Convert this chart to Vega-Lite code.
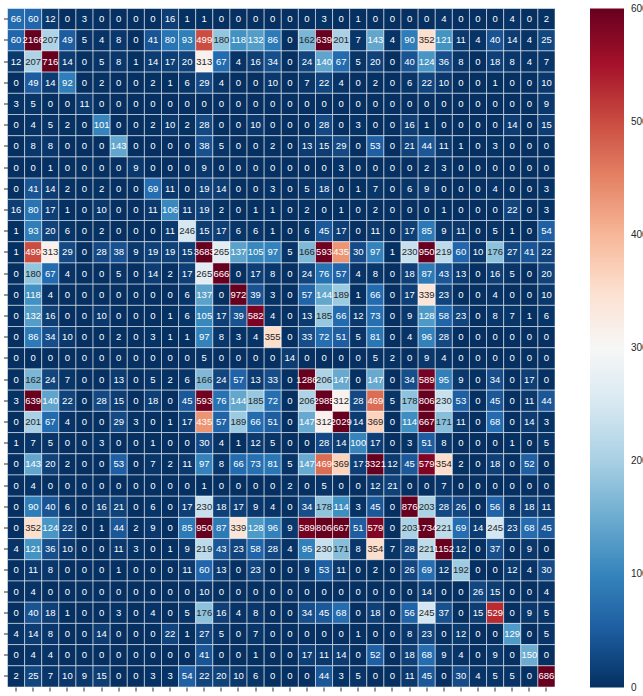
{
"$schema":"https://vega.github.io/schema/vega-lite/v6.json",
"autosize":"none",
"padding":{"left":7.5,"top":8.5,"right":88,"bottom":9},
"width":547.5,
"height":678.5,
"background":"white",
"config":{"view":{"stroke":null},"font":"Liberation Sans"},
"data":{"values":[
{"r":1,"c":1,"v":66},{"r":1,"c":2,"v":60},{"r":1,"c":3,"v":12},{"r":1,"c":4,"v":0},{"r":1,"c":5,"v":3},{"r":1,"c":6,"v":0},{"r":1,"c":7,"v":0},{"r":1,"c":8,"v":0},{"r":1,"c":9,"v":0},{"r":1,"c":10,"v":16},{"r":1,"c":11,"v":1},{"r":1,"c":12,"v":1},{"r":1,"c":13,"v":0},{"r":1,"c":14,"v":0},{"r":1,"c":15,"v":0},{"r":1,"c":16,"v":0},{"r":1,"c":17,"v":0},{"r":1,"c":18,"v":0},{"r":1,"c":19,"v":3},{"r":1,"c":20,"v":0},{"r":1,"c":21,"v":1},{"r":1,"c":22,"v":0},{"r":1,"c":23,"v":0},{"r":1,"c":24,"v":0},{"r":1,"c":25,"v":0},{"r":1,"c":26,"v":4},{"r":1,"c":27,"v":0},{"r":1,"c":28,"v":0},{"r":1,"c":29,"v":0},{"r":1,"c":30,"v":4},{"r":1,"c":31,"v":0},{"r":1,"c":32,"v":2},
{"r":2,"c":1,"v":60},{"r":2,"c":2,"v":2166},{"r":2,"c":3,"v":207},{"r":2,"c":4,"v":49},{"r":2,"c":5,"v":5},{"r":2,"c":6,"v":4},{"r":2,"c":7,"v":8},{"r":2,"c":8,"v":0},{"r":2,"c":9,"v":41},{"r":2,"c":10,"v":80},{"r":2,"c":11,"v":93},{"r":2,"c":12,"v":499},{"r":2,"c":13,"v":180},{"r":2,"c":14,"v":118},{"r":2,"c":15,"v":132},{"r":2,"c":16,"v":86},{"r":2,"c":17,"v":0},{"r":2,"c":18,"v":162},{"r":2,"c":19,"v":639},{"r":2,"c":20,"v":201},{"r":2,"c":21,"v":7},{"r":2,"c":22,"v":143},{"r":2,"c":23,"v":4},{"r":2,"c":24,"v":90},{"r":2,"c":25,"v":352},{"r":2,"c":26,"v":121},{"r":2,"c":27,"v":11},{"r":2,"c":28,"v":4},{"r":2,"c":29,"v":40},{"r":2,"c":30,"v":14},{"r":2,"c":31,"v":4},{"r":2,"c":32,"v":25},
{"r":3,"c":1,"v":12},{"r":3,"c":2,"v":207},{"r":3,"c":3,"v":716},{"r":3,"c":4,"v":14},{"r":3,"c":5,"v":0},{"r":3,"c":6,"v":5},{"r":3,"c":7,"v":8},{"r":3,"c":8,"v":1},{"r":3,"c":9,"v":14},{"r":3,"c":10,"v":17},{"r":3,"c":11,"v":20},{"r":3,"c":12,"v":313},{"r":3,"c":13,"v":67},{"r":3,"c":14,"v":4},{"r":3,"c":15,"v":16},{"r":3,"c":16,"v":34},{"r":3,"c":17,"v":0},{"r":3,"c":18,"v":24},{"r":3,"c":19,"v":140},{"r":3,"c":20,"v":67},{"r":3,"c":21,"v":5},{"r":3,"c":22,"v":20},{"r":3,"c":23,"v":0},{"r":3,"c":24,"v":40},{"r":3,"c":25,"v":124},{"r":3,"c":26,"v":36},{"r":3,"c":27,"v":8},{"r":3,"c":28,"v":0},{"r":3,"c":29,"v":18},{"r":3,"c":30,"v":8},{"r":3,"c":31,"v":4},{"r":3,"c":32,"v":7},
{"r":4,"c":1,"v":0},{"r":4,"c":2,"v":49},{"r":4,"c":3,"v":14},{"r":4,"c":4,"v":92},{"r":4,"c":5,"v":0},{"r":4,"c":6,"v":2},{"r":4,"c":7,"v":0},{"r":4,"c":8,"v":0},{"r":4,"c":9,"v":2},{"r":4,"c":10,"v":1},{"r":4,"c":11,"v":6},{"r":4,"c":12,"v":29},{"r":4,"c":13,"v":4},{"r":4,"c":14,"v":0},{"r":4,"c":15,"v":0},{"r":4,"c":16,"v":10},{"r":4,"c":17,"v":0},{"r":4,"c":18,"v":7},{"r":4,"c":19,"v":22},{"r":4,"c":20,"v":4},{"r":4,"c":21,"v":0},{"r":4,"c":22,"v":2},{"r":4,"c":23,"v":0},{"r":4,"c":24,"v":6},{"r":4,"c":25,"v":22},{"r":4,"c":26,"v":10},{"r":4,"c":27,"v":0},{"r":4,"c":28,"v":0},{"r":4,"c":29,"v":1},{"r":4,"c":30,"v":0},{"r":4,"c":31,"v":0},{"r":4,"c":32,"v":10},
{"r":5,"c":1,"v":3},{"r":5,"c":2,"v":5},{"r":5,"c":3,"v":0},{"r":5,"c":4,"v":0},{"r":5,"c":5,"v":11},{"r":5,"c":6,"v":0},{"r":5,"c":7,"v":0},{"r":5,"c":8,"v":0},{"r":5,"c":9,"v":0},{"r":5,"c":10,"v":0},{"r":5,"c":11,"v":0},{"r":5,"c":12,"v":0},{"r":5,"c":13,"v":0},{"r":5,"c":14,"v":0},{"r":5,"c":15,"v":0},{"r":5,"c":16,"v":0},{"r":5,"c":17,"v":0},{"r":5,"c":18,"v":0},{"r":5,"c":19,"v":0},{"r":5,"c":20,"v":0},{"r":5,"c":21,"v":0},{"r":5,"c":22,"v":0},{"r":5,"c":23,"v":0},{"r":5,"c":24,"v":0},{"r":5,"c":25,"v":0},{"r":5,"c":26,"v":0},{"r":5,"c":27,"v":0},{"r":5,"c":28,"v":0},{"r":5,"c":29,"v":0},{"r":5,"c":30,"v":0},{"r":5,"c":31,"v":0},{"r":5,"c":32,"v":9},
{"r":6,"c":1,"v":0},{"r":6,"c":2,"v":4},{"r":6,"c":3,"v":5},{"r":6,"c":4,"v":2},{"r":6,"c":5,"v":0},{"r":6,"c":6,"v":101},{"r":6,"c":7,"v":0},{"r":6,"c":8,"v":0},{"r":6,"c":9,"v":2},{"r":6,"c":10,"v":10},{"r":6,"c":11,"v":2},{"r":6,"c":12,"v":28},{"r":6,"c":13,"v":0},{"r":6,"c":14,"v":0},{"r":6,"c":15,"v":10},{"r":6,"c":16,"v":0},{"r":6,"c":17,"v":0},{"r":6,"c":18,"v":0},{"r":6,"c":19,"v":28},{"r":6,"c":20,"v":0},{"r":6,"c":21,"v":3},{"r":6,"c":22,"v":0},{"r":6,"c":23,"v":0},{"r":6,"c":24,"v":16},{"r":6,"c":25,"v":1},{"r":6,"c":26,"v":0},{"r":6,"c":27,"v":0},{"r":6,"c":28,"v":0},{"r":6,"c":29,"v":0},{"r":6,"c":30,"v":14},{"r":6,"c":31,"v":0},{"r":6,"c":32,"v":15},
{"r":7,"c":1,"v":0},{"r":7,"c":2,"v":8},{"r":7,"c":3,"v":8},{"r":7,"c":4,"v":0},{"r":7,"c":5,"v":0},{"r":7,"c":6,"v":0},{"r":7,"c":7,"v":143},{"r":7,"c":8,"v":0},{"r":7,"c":9,"v":0},{"r":7,"c":10,"v":0},{"r":7,"c":11,"v":0},{"r":7,"c":12,"v":38},{"r":7,"c":13,"v":5},{"r":7,"c":14,"v":0},{"r":7,"c":15,"v":0},{"r":7,"c":16,"v":2},{"r":7,"c":17,"v":0},{"r":7,"c":18,"v":13},{"r":7,"c":19,"v":15},{"r":7,"c":20,"v":29},{"r":7,"c":21,"v":0},{"r":7,"c":22,"v":53},{"r":7,"c":23,"v":0},{"r":7,"c":24,"v":21},{"r":7,"c":25,"v":44},{"r":7,"c":26,"v":11},{"r":7,"c":27,"v":1},{"r":7,"c":28,"v":0},{"r":7,"c":29,"v":3},{"r":7,"c":30,"v":0},{"r":7,"c":31,"v":0},{"r":7,"c":32,"v":0},
{"r":8,"c":1,"v":0},{"r":8,"c":2,"v":0},{"r":8,"c":3,"v":1},{"r":8,"c":4,"v":0},{"r":8,"c":5,"v":0},{"r":8,"c":6,"v":0},{"r":8,"c":7,"v":0},{"r":8,"c":8,"v":9},{"r":8,"c":9,"v":0},{"r":8,"c":10,"v":0},{"r":8,"c":11,"v":0},{"r":8,"c":12,"v":9},{"r":8,"c":13,"v":0},{"r":8,"c":14,"v":0},{"r":8,"c":15,"v":0},{"r":8,"c":16,"v":0},{"r":8,"c":17,"v":0},{"r":8,"c":18,"v":0},{"r":8,"c":19,"v":0},{"r":8,"c":20,"v":3},{"r":8,"c":21,"v":0},{"r":8,"c":22,"v":0},{"r":8,"c":23,"v":0},{"r":8,"c":24,"v":0},{"r":8,"c":25,"v":2},{"r":8,"c":26,"v":3},{"r":8,"c":27,"v":0},{"r":8,"c":28,"v":0},{"r":8,"c":29,"v":0},{"r":8,"c":30,"v":0},{"r":8,"c":31,"v":0},{"r":8,"c":32,"v":0},
{"r":9,"c":1,"v":0},{"r":9,"c":2,"v":41},{"r":9,"c":3,"v":14},{"r":9,"c":4,"v":2},{"r":9,"c":5,"v":0},{"r":9,"c":6,"v":2},{"r":9,"c":7,"v":0},{"r":9,"c":8,"v":0},{"r":9,"c":9,"v":69},{"r":9,"c":10,"v":11},{"r":9,"c":11,"v":0},{"r":9,"c":12,"v":19},{"r":9,"c":13,"v":14},{"r":9,"c":14,"v":0},{"r":9,"c":15,"v":0},{"r":9,"c":16,"v":3},{"r":9,"c":17,"v":0},{"r":9,"c":18,"v":5},{"r":9,"c":19,"v":18},{"r":9,"c":20,"v":0},{"r":9,"c":21,"v":1},{"r":9,"c":22,"v":7},{"r":9,"c":23,"v":0},{"r":9,"c":24,"v":6},{"r":9,"c":25,"v":9},{"r":9,"c":26,"v":0},{"r":9,"c":27,"v":0},{"r":9,"c":28,"v":0},{"r":9,"c":29,"v":4},{"r":9,"c":30,"v":0},{"r":9,"c":31,"v":0},{"r":9,"c":32,"v":3},
{"r":10,"c":1,"v":16},{"r":10,"c":2,"v":80},{"r":10,"c":3,"v":17},{"r":10,"c":4,"v":1},{"r":10,"c":5,"v":0},{"r":10,"c":6,"v":10},{"r":10,"c":7,"v":0},{"r":10,"c":8,"v":0},{"r":10,"c":9,"v":11},{"r":10,"c":10,"v":106},{"r":10,"c":11,"v":11},{"r":10,"c":12,"v":19},{"r":10,"c":13,"v":2},{"r":10,"c":14,"v":0},{"r":10,"c":15,"v":1},{"r":10,"c":16,"v":1},{"r":10,"c":17,"v":0},{"r":10,"c":18,"v":2},{"r":10,"c":19,"v":0},{"r":10,"c":20,"v":1},{"r":10,"c":21,"v":0},{"r":10,"c":22,"v":2},{"r":10,"c":23,"v":0},{"r":10,"c":24,"v":0},{"r":10,"c":25,"v":0},{"r":10,"c":26,"v":1},{"r":10,"c":27,"v":0},{"r":10,"c":28,"v":0},{"r":10,"c":29,"v":0},{"r":10,"c":30,"v":22},{"r":10,"c":31,"v":0},{"r":10,"c":32,"v":3},
{"r":11,"c":1,"v":1},{"r":11,"c":2,"v":93},{"r":11,"c":3,"v":20},{"r":11,"c":4,"v":6},{"r":11,"c":5,"v":0},{"r":11,"c":6,"v":2},{"r":11,"c":7,"v":0},{"r":11,"c":8,"v":0},{"r":11,"c":9,"v":0},{"r":11,"c":10,"v":11},{"r":11,"c":11,"v":246},{"r":11,"c":12,"v":15},{"r":11,"c":13,"v":17},{"r":11,"c":14,"v":6},{"r":11,"c":15,"v":6},{"r":11,"c":16,"v":1},{"r":11,"c":17,"v":0},{"r":11,"c":18,"v":6},{"r":11,"c":19,"v":45},{"r":11,"c":20,"v":17},{"r":11,"c":21,"v":0},{"r":11,"c":22,"v":11},{"r":11,"c":23,"v":0},{"r":11,"c":24,"v":17},{"r":11,"c":25,"v":85},{"r":11,"c":26,"v":9},{"r":11,"c":27,"v":11},{"r":11,"c":28,"v":0},{"r":11,"c":29,"v":5},{"r":11,"c":30,"v":1},{"r":11,"c":31,"v":0},{"r":11,"c":32,"v":54},
{"r":12,"c":1,"v":1},{"r":12,"c":2,"v":499},{"r":12,"c":3,"v":313},{"r":12,"c":4,"v":29},{"r":12,"c":5,"v":0},{"r":12,"c":6,"v":28},{"r":12,"c":7,"v":38},{"r":12,"c":8,"v":9},{"r":12,"c":9,"v":19},{"r":12,"c":10,"v":19},{"r":12,"c":11,"v":15},{"r":12,"c":12,"v":3683},{"r":12,"c":13,"v":265},{"r":12,"c":14,"v":137},{"r":12,"c":15,"v":105},{"r":12,"c":16,"v":97},{"r":12,"c":17,"v":5},{"r":12,"c":18,"v":166},{"r":12,"c":19,"v":593},{"r":12,"c":20,"v":435},{"r":12,"c":21,"v":30},{"r":12,"c":22,"v":97},{"r":12,"c":23,"v":1},{"r":12,"c":24,"v":230},{"r":12,"c":25,"v":950},{"r":12,"c":26,"v":219},{"r":12,"c":27,"v":60},{"r":12,"c":28,"v":10},{"r":12,"c":29,"v":176},{"r":12,"c":30,"v":27},{"r":12,"c":31,"v":41},{"r":12,"c":32,"v":22},
{"r":13,"c":1,"v":0},{"r":13,"c":2,"v":180},{"r":13,"c":3,"v":67},{"r":13,"c":4,"v":4},{"r":13,"c":5,"v":0},{"r":13,"c":6,"v":0},{"r":13,"c":7,"v":5},{"r":13,"c":8,"v":0},{"r":13,"c":9,"v":14},{"r":13,"c":10,"v":2},{"r":13,"c":11,"v":17},{"r":13,"c":12,"v":265},{"r":13,"c":13,"v":666},{"r":13,"c":14,"v":0},{"r":13,"c":15,"v":17},{"r":13,"c":16,"v":8},{"r":13,"c":17,"v":0},{"r":13,"c":18,"v":24},{"r":13,"c":19,"v":76},{"r":13,"c":20,"v":57},{"r":13,"c":21,"v":4},{"r":13,"c":22,"v":8},{"r":13,"c":23,"v":0},{"r":13,"c":24,"v":18},{"r":13,"c":25,"v":87},{"r":13,"c":26,"v":43},{"r":13,"c":27,"v":13},{"r":13,"c":28,"v":0},{"r":13,"c":29,"v":16},{"r":13,"c":30,"v":5},{"r":13,"c":31,"v":0},{"r":13,"c":32,"v":20},
{"r":14,"c":1,"v":0},{"r":14,"c":2,"v":118},{"r":14,"c":3,"v":4},{"r":14,"c":4,"v":0},{"r":14,"c":5,"v":0},{"r":14,"c":6,"v":0},{"r":14,"c":7,"v":0},{"r":14,"c":8,"v":0},{"r":14,"c":9,"v":0},{"r":14,"c":10,"v":0},{"r":14,"c":11,"v":6},{"r":14,"c":12,"v":137},{"r":14,"c":13,"v":0},{"r":14,"c":14,"v":972},{"r":14,"c":15,"v":39},{"r":14,"c":16,"v":3},{"r":14,"c":17,"v":0},{"r":14,"c":18,"v":57},{"r":14,"c":19,"v":144},{"r":14,"c":20,"v":189},{"r":14,"c":21,"v":1},{"r":14,"c":22,"v":66},{"r":14,"c":23,"v":0},{"r":14,"c":24,"v":17},{"r":14,"c":25,"v":339},{"r":14,"c":26,"v":23},{"r":14,"c":27,"v":0},{"r":14,"c":28,"v":0},{"r":14,"c":29,"v":4},{"r":14,"c":30,"v":0},{"r":14,"c":31,"v":0},{"r":14,"c":32,"v":10},
{"r":15,"c":1,"v":0},{"r":15,"c":2,"v":132},{"r":15,"c":3,"v":16},{"r":15,"c":4,"v":0},{"r":15,"c":5,"v":0},{"r":15,"c":6,"v":10},{"r":15,"c":7,"v":0},{"r":15,"c":8,"v":0},{"r":15,"c":9,"v":0},{"r":15,"c":10,"v":1},{"r":15,"c":11,"v":6},{"r":15,"c":12,"v":105},{"r":15,"c":13,"v":17},{"r":15,"c":14,"v":39},{"r":15,"c":15,"v":582},{"r":15,"c":16,"v":4},{"r":15,"c":17,"v":0},{"r":15,"c":18,"v":13},{"r":15,"c":19,"v":185},{"r":15,"c":20,"v":66},{"r":15,"c":21,"v":12},{"r":15,"c":22,"v":73},{"r":15,"c":23,"v":0},{"r":15,"c":24,"v":9},{"r":15,"c":25,"v":128},{"r":15,"c":26,"v":58},{"r":15,"c":27,"v":23},{"r":15,"c":28,"v":0},{"r":15,"c":29,"v":8},{"r":15,"c":30,"v":7},{"r":15,"c":31,"v":1},{"r":15,"c":32,"v":6},
{"r":16,"c":1,"v":0},{"r":16,"c":2,"v":86},{"r":16,"c":3,"v":34},{"r":16,"c":4,"v":10},{"r":16,"c":5,"v":0},{"r":16,"c":6,"v":0},{"r":16,"c":7,"v":2},{"r":16,"c":8,"v":0},{"r":16,"c":9,"v":3},{"r":16,"c":10,"v":1},{"r":16,"c":11,"v":1},{"r":16,"c":12,"v":97},{"r":16,"c":13,"v":8},{"r":16,"c":14,"v":3},{"r":16,"c":15,"v":4},{"r":16,"c":16,"v":355},{"r":16,"c":17,"v":0},{"r":16,"c":18,"v":33},{"r":16,"c":19,"v":72},{"r":16,"c":20,"v":51},{"r":16,"c":21,"v":5},{"r":16,"c":22,"v":81},{"r":16,"c":23,"v":0},{"r":16,"c":24,"v":4},{"r":16,"c":25,"v":96},{"r":16,"c":26,"v":28},{"r":16,"c":27,"v":0},{"r":16,"c":28,"v":0},{"r":16,"c":29,"v":0},{"r":16,"c":30,"v":0},{"r":16,"c":31,"v":0},{"r":16,"c":32,"v":0},
{"r":17,"c":1,"v":0},{"r":17,"c":2,"v":0},{"r":17,"c":3,"v":0},{"r":17,"c":4,"v":0},{"r":17,"c":5,"v":0},{"r":17,"c":6,"v":0},{"r":17,"c":7,"v":0},{"r":17,"c":8,"v":0},{"r":17,"c":9,"v":0},{"r":17,"c":10,"v":0},{"r":17,"c":11,"v":0},{"r":17,"c":12,"v":5},{"r":17,"c":13,"v":0},{"r":17,"c":14,"v":0},{"r":17,"c":15,"v":0},{"r":17,"c":16,"v":0},{"r":17,"c":17,"v":14},{"r":17,"c":18,"v":0},{"r":17,"c":19,"v":0},{"r":17,"c":20,"v":0},{"r":17,"c":21,"v":0},{"r":17,"c":22,"v":5},{"r":17,"c":23,"v":2},{"r":17,"c":24,"v":0},{"r":17,"c":25,"v":9},{"r":17,"c":26,"v":4},{"r":17,"c":27,"v":0},{"r":17,"c":28,"v":0},{"r":17,"c":29,"v":0},{"r":17,"c":30,"v":0},{"r":17,"c":31,"v":0},{"r":17,"c":32,"v":0},
{"r":18,"c":1,"v":0},{"r":18,"c":2,"v":162},{"r":18,"c":3,"v":24},{"r":18,"c":4,"v":7},{"r":18,"c":5,"v":0},{"r":18,"c":6,"v":0},{"r":18,"c":7,"v":13},{"r":18,"c":8,"v":0},{"r":18,"c":9,"v":5},{"r":18,"c":10,"v":2},{"r":18,"c":11,"v":6},{"r":18,"c":12,"v":166},{"r":18,"c":13,"v":24},{"r":18,"c":14,"v":57},{"r":18,"c":15,"v":13},{"r":18,"c":16,"v":33},{"r":18,"c":17,"v":0},{"r":18,"c":18,"v":1286},{"r":18,"c":19,"v":206},{"r":18,"c":20,"v":147},{"r":18,"c":21,"v":0},{"r":18,"c":22,"v":147},{"r":18,"c":23,"v":0},{"r":18,"c":24,"v":34},{"r":18,"c":25,"v":589},{"r":18,"c":26,"v":95},{"r":18,"c":27,"v":9},{"r":18,"c":28,"v":0},{"r":18,"c":29,"v":34},{"r":18,"c":30,"v":0},{"r":18,"c":31,"v":17},{"r":18,"c":32,"v":0},
{"r":19,"c":1,"v":3},{"r":19,"c":2,"v":639},{"r":19,"c":3,"v":140},{"r":19,"c":4,"v":22},{"r":19,"c":5,"v":0},{"r":19,"c":6,"v":28},{"r":19,"c":7,"v":15},{"r":19,"c":8,"v":0},{"r":19,"c":9,"v":18},{"r":19,"c":10,"v":0},{"r":19,"c":11,"v":45},{"r":19,"c":12,"v":593},{"r":19,"c":13,"v":76},{"r":19,"c":14,"v":144},{"r":19,"c":15,"v":185},{"r":19,"c":16,"v":72},{"r":19,"c":17,"v":0},{"r":19,"c":18,"v":206},{"r":19,"c":19,"v":2985},{"r":19,"c":20,"v":312},{"r":19,"c":21,"v":28},{"r":19,"c":22,"v":469},{"r":19,"c":23,"v":5},{"r":19,"c":24,"v":178},{"r":19,"c":25,"v":806},{"r":19,"c":26,"v":230},{"r":19,"c":27,"v":53},{"r":19,"c":28,"v":0},{"r":19,"c":29,"v":45},{"r":19,"c":30,"v":0},{"r":19,"c":31,"v":11},{"r":19,"c":32,"v":44},
{"r":20,"c":1,"v":0},{"r":20,"c":2,"v":201},{"r":20,"c":3,"v":67},{"r":20,"c":4,"v":4},{"r":20,"c":5,"v":0},{"r":20,"c":6,"v":0},{"r":20,"c":7,"v":29},{"r":20,"c":8,"v":3},{"r":20,"c":9,"v":0},{"r":20,"c":10,"v":1},{"r":20,"c":11,"v":17},{"r":20,"c":12,"v":435},{"r":20,"c":13,"v":57},{"r":20,"c":14,"v":189},{"r":20,"c":15,"v":66},{"r":20,"c":16,"v":51},{"r":20,"c":17,"v":0},{"r":20,"c":18,"v":147},{"r":20,"c":19,"v":312},{"r":20,"c":20,"v":2029},{"r":20,"c":21,"v":14},{"r":20,"c":22,"v":369},{"r":20,"c":23,"v":0},{"r":20,"c":24,"v":114},{"r":20,"c":25,"v":667},{"r":20,"c":26,"v":171},{"r":20,"c":27,"v":11},{"r":20,"c":28,"v":0},{"r":20,"c":29,"v":68},{"r":20,"c":30,"v":0},{"r":20,"c":31,"v":14},{"r":20,"c":32,"v":3},
{"r":21,"c":1,"v":1},{"r":21,"c":2,"v":7},{"r":21,"c":3,"v":5},{"r":21,"c":4,"v":0},{"r":21,"c":5,"v":0},{"r":21,"c":6,"v":3},{"r":21,"c":7,"v":0},{"r":21,"c":8,"v":0},{"r":21,"c":9,"v":1},{"r":21,"c":10,"v":0},{"r":21,"c":11,"v":0},{"r":21,"c":12,"v":30},{"r":21,"c":13,"v":4},{"r":21,"c":14,"v":1},{"r":21,"c":15,"v":12},{"r":21,"c":16,"v":5},{"r":21,"c":17,"v":0},{"r":21,"c":18,"v":0},{"r":21,"c":19,"v":28},{"r":21,"c":20,"v":14},{"r":21,"c":21,"v":100},{"r":21,"c":22,"v":17},{"r":21,"c":23,"v":0},{"r":21,"c":24,"v":3},{"r":21,"c":25,"v":51},{"r":21,"c":26,"v":8},{"r":21,"c":27,"v":0},{"r":21,"c":28,"v":0},{"r":21,"c":29,"v":0},{"r":21,"c":30,"v":1},{"r":21,"c":31,"v":0},{"r":21,"c":32,"v":5},
{"r":22,"c":1,"v":0},{"r":22,"c":2,"v":143},{"r":22,"c":3,"v":20},{"r":22,"c":4,"v":2},{"r":22,"c":5,"v":0},{"r":22,"c":6,"v":0},{"r":22,"c":7,"v":53},{"r":22,"c":8,"v":0},{"r":22,"c":9,"v":7},{"r":22,"c":10,"v":2},{"r":22,"c":11,"v":11},{"r":22,"c":12,"v":97},{"r":22,"c":13,"v":8},{"r":22,"c":14,"v":66},{"r":22,"c":15,"v":73},{"r":22,"c":16,"v":81},{"r":22,"c":17,"v":5},{"r":22,"c":18,"v":147},{"r":22,"c":19,"v":469},{"r":22,"c":20,"v":369},{"r":22,"c":21,"v":17},{"r":22,"c":22,"v":3321},{"r":22,"c":23,"v":12},{"r":22,"c":24,"v":45},{"r":22,"c":25,"v":579},{"r":22,"c":26,"v":354},{"r":22,"c":27,"v":2},{"r":22,"c":28,"v":0},{"r":22,"c":29,"v":18},{"r":22,"c":30,"v":0},{"r":22,"c":31,"v":52},{"r":22,"c":32,"v":0},
{"r":23,"c":1,"v":0},{"r":23,"c":2,"v":4},{"r":23,"c":3,"v":0},{"r":23,"c":4,"v":0},{"r":23,"c":5,"v":0},{"r":23,"c":6,"v":0},{"r":23,"c":7,"v":0},{"r":23,"c":8,"v":0},{"r":23,"c":9,"v":0},{"r":23,"c":10,"v":0},{"r":23,"c":11,"v":0},{"r":23,"c":12,"v":1},{"r":23,"c":13,"v":0},{"r":23,"c":14,"v":0},{"r":23,"c":15,"v":0},{"r":23,"c":16,"v":0},{"r":23,"c":17,"v":2},{"r":23,"c":18,"v":0},{"r":23,"c":19,"v":5},{"r":23,"c":20,"v":0},{"r":23,"c":21,"v":0},{"r":23,"c":22,"v":12},{"r":23,"c":23,"v":21},{"r":23,"c":24,"v":0},{"r":23,"c":25,"v":0},{"r":23,"c":26,"v":7},{"r":23,"c":27,"v":0},{"r":23,"c":28,"v":0},{"r":23,"c":29,"v":0},{"r":23,"c":30,"v":0},{"r":23,"c":31,"v":0},{"r":23,"c":32,"v":0},
{"r":24,"c":1,"v":0},{"r":24,"c":2,"v":90},{"r":24,"c":3,"v":40},{"r":24,"c":4,"v":6},{"r":24,"c":5,"v":0},{"r":24,"c":6,"v":16},{"r":24,"c":7,"v":21},{"r":24,"c":8,"v":0},{"r":24,"c":9,"v":6},{"r":24,"c":10,"v":0},{"r":24,"c":11,"v":17},{"r":24,"c":12,"v":230},{"r":24,"c":13,"v":18},{"r":24,"c":14,"v":17},{"r":24,"c":15,"v":9},{"r":24,"c":16,"v":4},{"r":24,"c":17,"v":0},{"r":24,"c":18,"v":34},{"r":24,"c":19,"v":178},{"r":24,"c":20,"v":114},{"r":24,"c":21,"v":3},{"r":24,"c":22,"v":45},{"r":24,"c":23,"v":0},{"r":24,"c":24,"v":876},{"r":24,"c":25,"v":203},{"r":24,"c":26,"v":28},{"r":24,"c":27,"v":26},{"r":24,"c":28,"v":0},{"r":24,"c":29,"v":56},{"r":24,"c":30,"v":8},{"r":24,"c":31,"v":18},{"r":24,"c":32,"v":11},
{"r":25,"c":1,"v":0},{"r":25,"c":2,"v":352},{"r":25,"c":3,"v":124},{"r":25,"c":4,"v":22},{"r":25,"c":5,"v":0},{"r":25,"c":6,"v":1},{"r":25,"c":7,"v":44},{"r":25,"c":8,"v":2},{"r":25,"c":9,"v":9},{"r":25,"c":10,"v":0},{"r":25,"c":11,"v":85},{"r":25,"c":12,"v":950},{"r":25,"c":13,"v":87},{"r":25,"c":14,"v":339},{"r":25,"c":15,"v":128},{"r":25,"c":16,"v":96},{"r":25,"c":17,"v":9},{"r":25,"c":18,"v":589},{"r":25,"c":19,"v":806},{"r":25,"c":20,"v":667},{"r":25,"c":21,"v":51},{"r":25,"c":22,"v":579},{"r":25,"c":23,"v":0},{"r":25,"c":24,"v":203},{"r":25,"c":25,"v":1734},{"r":25,"c":26,"v":221},{"r":25,"c":27,"v":69},{"r":25,"c":28,"v":14},{"r":25,"c":29,"v":245},{"r":25,"c":30,"v":23},{"r":25,"c":31,"v":68},{"r":25,"c":32,"v":45},
{"r":26,"c":1,"v":4},{"r":26,"c":2,"v":121},{"r":26,"c":3,"v":36},{"r":26,"c":4,"v":10},{"r":26,"c":5,"v":0},{"r":26,"c":6,"v":0},{"r":26,"c":7,"v":11},{"r":26,"c":8,"v":3},{"r":26,"c":9,"v":0},{"r":26,"c":10,"v":1},{"r":26,"c":11,"v":9},{"r":26,"c":12,"v":219},{"r":26,"c":13,"v":43},{"r":26,"c":14,"v":23},{"r":26,"c":15,"v":58},{"r":26,"c":16,"v":28},{"r":26,"c":17,"v":4},{"r":26,"c":18,"v":95},{"r":26,"c":19,"v":230},{"r":26,"c":20,"v":171},{"r":26,"c":21,"v":8},{"r":26,"c":22,"v":354},{"r":26,"c":23,"v":7},{"r":26,"c":24,"v":28},{"r":26,"c":25,"v":221},{"r":26,"c":26,"v":1152},{"r":26,"c":27,"v":12},{"r":26,"c":28,"v":0},{"r":26,"c":29,"v":37},{"r":26,"c":30,"v":0},{"r":26,"c":31,"v":9},{"r":26,"c":32,"v":0},
{"r":27,"c":1,"v":0},{"r":27,"c":2,"v":11},{"r":27,"c":3,"v":8},{"r":27,"c":4,"v":0},{"r":27,"c":5,"v":0},{"r":27,"c":6,"v":0},{"r":27,"c":7,"v":1},{"r":27,"c":8,"v":0},{"r":27,"c":9,"v":0},{"r":27,"c":10,"v":0},{"r":27,"c":11,"v":11},{"r":27,"c":12,"v":60},{"r":27,"c":13,"v":13},{"r":27,"c":14,"v":0},{"r":27,"c":15,"v":23},{"r":27,"c":16,"v":0},{"r":27,"c":17,"v":0},{"r":27,"c":18,"v":9},{"r":27,"c":19,"v":53},{"r":27,"c":20,"v":11},{"r":27,"c":21,"v":0},{"r":27,"c":22,"v":2},{"r":27,"c":23,"v":0},{"r":27,"c":24,"v":26},{"r":27,"c":25,"v":69},{"r":27,"c":26,"v":12},{"r":27,"c":27,"v":192},{"r":27,"c":28,"v":0},{"r":27,"c":29,"v":0},{"r":27,"c":30,"v":12},{"r":27,"c":31,"v":4},{"r":27,"c":32,"v":30},
{"r":28,"c":1,"v":0},{"r":28,"c":2,"v":4},{"r":28,"c":3,"v":0},{"r":28,"c":4,"v":0},{"r":28,"c":5,"v":0},{"r":28,"c":6,"v":0},{"r":28,"c":7,"v":0},{"r":28,"c":8,"v":0},{"r":28,"c":9,"v":0},{"r":28,"c":10,"v":0},{"r":28,"c":11,"v":0},{"r":28,"c":12,"v":10},{"r":28,"c":13,"v":0},{"r":28,"c":14,"v":0},{"r":28,"c":15,"v":0},{"r":28,"c":16,"v":0},{"r":28,"c":17,"v":0},{"r":28,"c":18,"v":0},{"r":28,"c":19,"v":0},{"r":28,"c":20,"v":0},{"r":28,"c":21,"v":0},{"r":28,"c":22,"v":0},{"r":28,"c":23,"v":0},{"r":28,"c":24,"v":0},{"r":28,"c":25,"v":14},{"r":28,"c":26,"v":0},{"r":28,"c":27,"v":0},{"r":28,"c":28,"v":26},{"r":28,"c":29,"v":15},{"r":28,"c":30,"v":0},{"r":28,"c":31,"v":0},{"r":28,"c":32,"v":4},
{"r":29,"c":1,"v":0},{"r":29,"c":2,"v":40},{"r":29,"c":3,"v":18},{"r":29,"c":4,"v":1},{"r":29,"c":5,"v":0},{"r":29,"c":6,"v":0},{"r":29,"c":7,"v":3},{"r":29,"c":8,"v":0},{"r":29,"c":9,"v":4},{"r":29,"c":10,"v":0},{"r":29,"c":11,"v":5},{"r":29,"c":12,"v":176},{"r":29,"c":13,"v":16},{"r":29,"c":14,"v":4},{"r":29,"c":15,"v":8},{"r":29,"c":16,"v":0},{"r":29,"c":17,"v":0},{"r":29,"c":18,"v":34},{"r":29,"c":19,"v":45},{"r":29,"c":20,"v":68},{"r":29,"c":21,"v":0},{"r":29,"c":22,"v":18},{"r":29,"c":23,"v":0},{"r":29,"c":24,"v":56},{"r":29,"c":25,"v":245},{"r":29,"c":26,"v":37},{"r":29,"c":27,"v":0},{"r":29,"c":28,"v":15},{"r":29,"c":29,"v":529},{"r":29,"c":30,"v":0},{"r":29,"c":31,"v":9},{"r":29,"c":32,"v":5},
{"r":30,"c":1,"v":4},{"r":30,"c":2,"v":14},{"r":30,"c":3,"v":8},{"r":30,"c":4,"v":0},{"r":30,"c":5,"v":0},{"r":30,"c":6,"v":14},{"r":30,"c":7,"v":0},{"r":30,"c":8,"v":0},{"r":30,"c":9,"v":0},{"r":30,"c":10,"v":22},{"r":30,"c":11,"v":1},{"r":30,"c":12,"v":27},{"r":30,"c":13,"v":5},{"r":30,"c":14,"v":0},{"r":30,"c":15,"v":7},{"r":30,"c":16,"v":0},{"r":30,"c":17,"v":0},{"r":30,"c":18,"v":0},{"r":30,"c":19,"v":0},{"r":30,"c":20,"v":0},{"r":30,"c":21,"v":1},{"r":30,"c":22,"v":0},{"r":30,"c":23,"v":0},{"r":30,"c":24,"v":8},{"r":30,"c":25,"v":23},{"r":30,"c":26,"v":0},{"r":30,"c":27,"v":12},{"r":30,"c":28,"v":0},{"r":30,"c":29,"v":0},{"r":30,"c":30,"v":129},{"r":30,"c":31,"v":0},{"r":30,"c":32,"v":5},
{"r":31,"c":1,"v":0},{"r":31,"c":2,"v":4},{"r":31,"c":3,"v":4},{"r":31,"c":4,"v":0},{"r":31,"c":5,"v":0},{"r":31,"c":6,"v":0},{"r":31,"c":7,"v":0},{"r":31,"c":8,"v":0},{"r":31,"c":9,"v":0},{"r":31,"c":10,"v":0},{"r":31,"c":11,"v":0},{"r":31,"c":12,"v":41},{"r":31,"c":13,"v":0},{"r":31,"c":14,"v":0},{"r":31,"c":15,"v":1},{"r":31,"c":16,"v":0},{"r":31,"c":17,"v":0},{"r":31,"c":18,"v":17},{"r":31,"c":19,"v":11},{"r":31,"c":20,"v":14},{"r":31,"c":21,"v":0},{"r":31,"c":22,"v":52},{"r":31,"c":23,"v":0},{"r":31,"c":24,"v":18},{"r":31,"c":25,"v":68},{"r":31,"c":26,"v":9},{"r":31,"c":27,"v":4},{"r":31,"c":28,"v":0},{"r":31,"c":29,"v":9},{"r":31,"c":30,"v":0},{"r":31,"c":31,"v":150},{"r":31,"c":32,"v":0},
{"r":32,"c":1,"v":2},{"r":32,"c":2,"v":25},{"r":32,"c":3,"v":7},{"r":32,"c":4,"v":10},{"r":32,"c":5,"v":9},{"r":32,"c":6,"v":15},{"r":32,"c":7,"v":0},{"r":32,"c":8,"v":0},{"r":32,"c":9,"v":3},{"r":32,"c":10,"v":3},{"r":32,"c":11,"v":54},{"r":32,"c":12,"v":22},{"r":32,"c":13,"v":20},{"r":32,"c":14,"v":10},{"r":32,"c":15,"v":6},{"r":32,"c":16,"v":0},{"r":32,"c":17,"v":0},{"r":32,"c":18,"v":0},{"r":32,"c":19,"v":44},{"r":32,"c":20,"v":3},{"r":32,"c":21,"v":5},{"r":32,"c":22,"v":0},{"r":32,"c":23,"v":0},{"r":32,"c":24,"v":11},{"r":32,"c":25,"v":45},{"r":32,"c":26,"v":0},{"r":32,"c":27,"v":30},{"r":32,"c":28,"v":4},{"r":32,"c":29,"v":5},{"r":32,"c":30,"v":5},{"r":32,"c":31,"v":0},{"r":32,"c":32,"v":686}
]},
"encoding":{
"x":{"field":"c","type":"ordinal","sort":"ascending","scale":{"paddingInner":0,"paddingOuter":0},"axis":{"title":null,"labels":false,"domain":false,"ticks":true,"tickSize":4,"tickColor":"#333333","tickWidth":1,"orient":"bottom"}},
"y":{"field":"r","type":"ordinal","sort":"ascending","scale":{"paddingInner":0,"paddingOuter":0},"axis":{"title":null,"labels":false,"domain":false,"ticks":true,"tickSize":4,"tickColor":"#333333","tickWidth":1,"orient":"left"}}
},
"layer":[
{"mark":{"type":"rect","stroke":"white","strokeWidth":0.5},
"encoding":{"color":{"field":"v","type":"quantitative","scale":{"domain":[0,60,120,180,240,300,360,420,480,540,600],"range":["#053061","#2166ac","#4393c3","#92c5de","#d1e5f0","#f7f7f7","#fddbc7","#f4a582","#d6604d","#b2182b","#67001f"],"clamp":true},
"legend":{"orient":"none","legendX":582.5,"legendY":0,"title":null,"direction":"vertical","gradientLength":679,"gradientThickness":34,"gradientStrokeWidth":0,"values":[0,100,200,300,400,500,600],"labelFontSize":10,"labelColor":"#262626","labelFont":"Liberation Sans","labelOffset":7,"labelBaseline":"middle","labelOverlap":false,"padding":0,"encode":{"labels":{"update":{"baseline":{"value":"middle"}}}}}}}},
{"mark":{"type":"text","fontSize":9.5,"font":"Liberation Sans","baseline":"middle","align":"center"},
"encoding":{"text":{"field":"v","type":"quantitative","format":"d"},
"color":{"condition":{"test":"datum.v >= 155 && datum.v <= 420","value":"#262626"},"value":"white"}}}
]
}
